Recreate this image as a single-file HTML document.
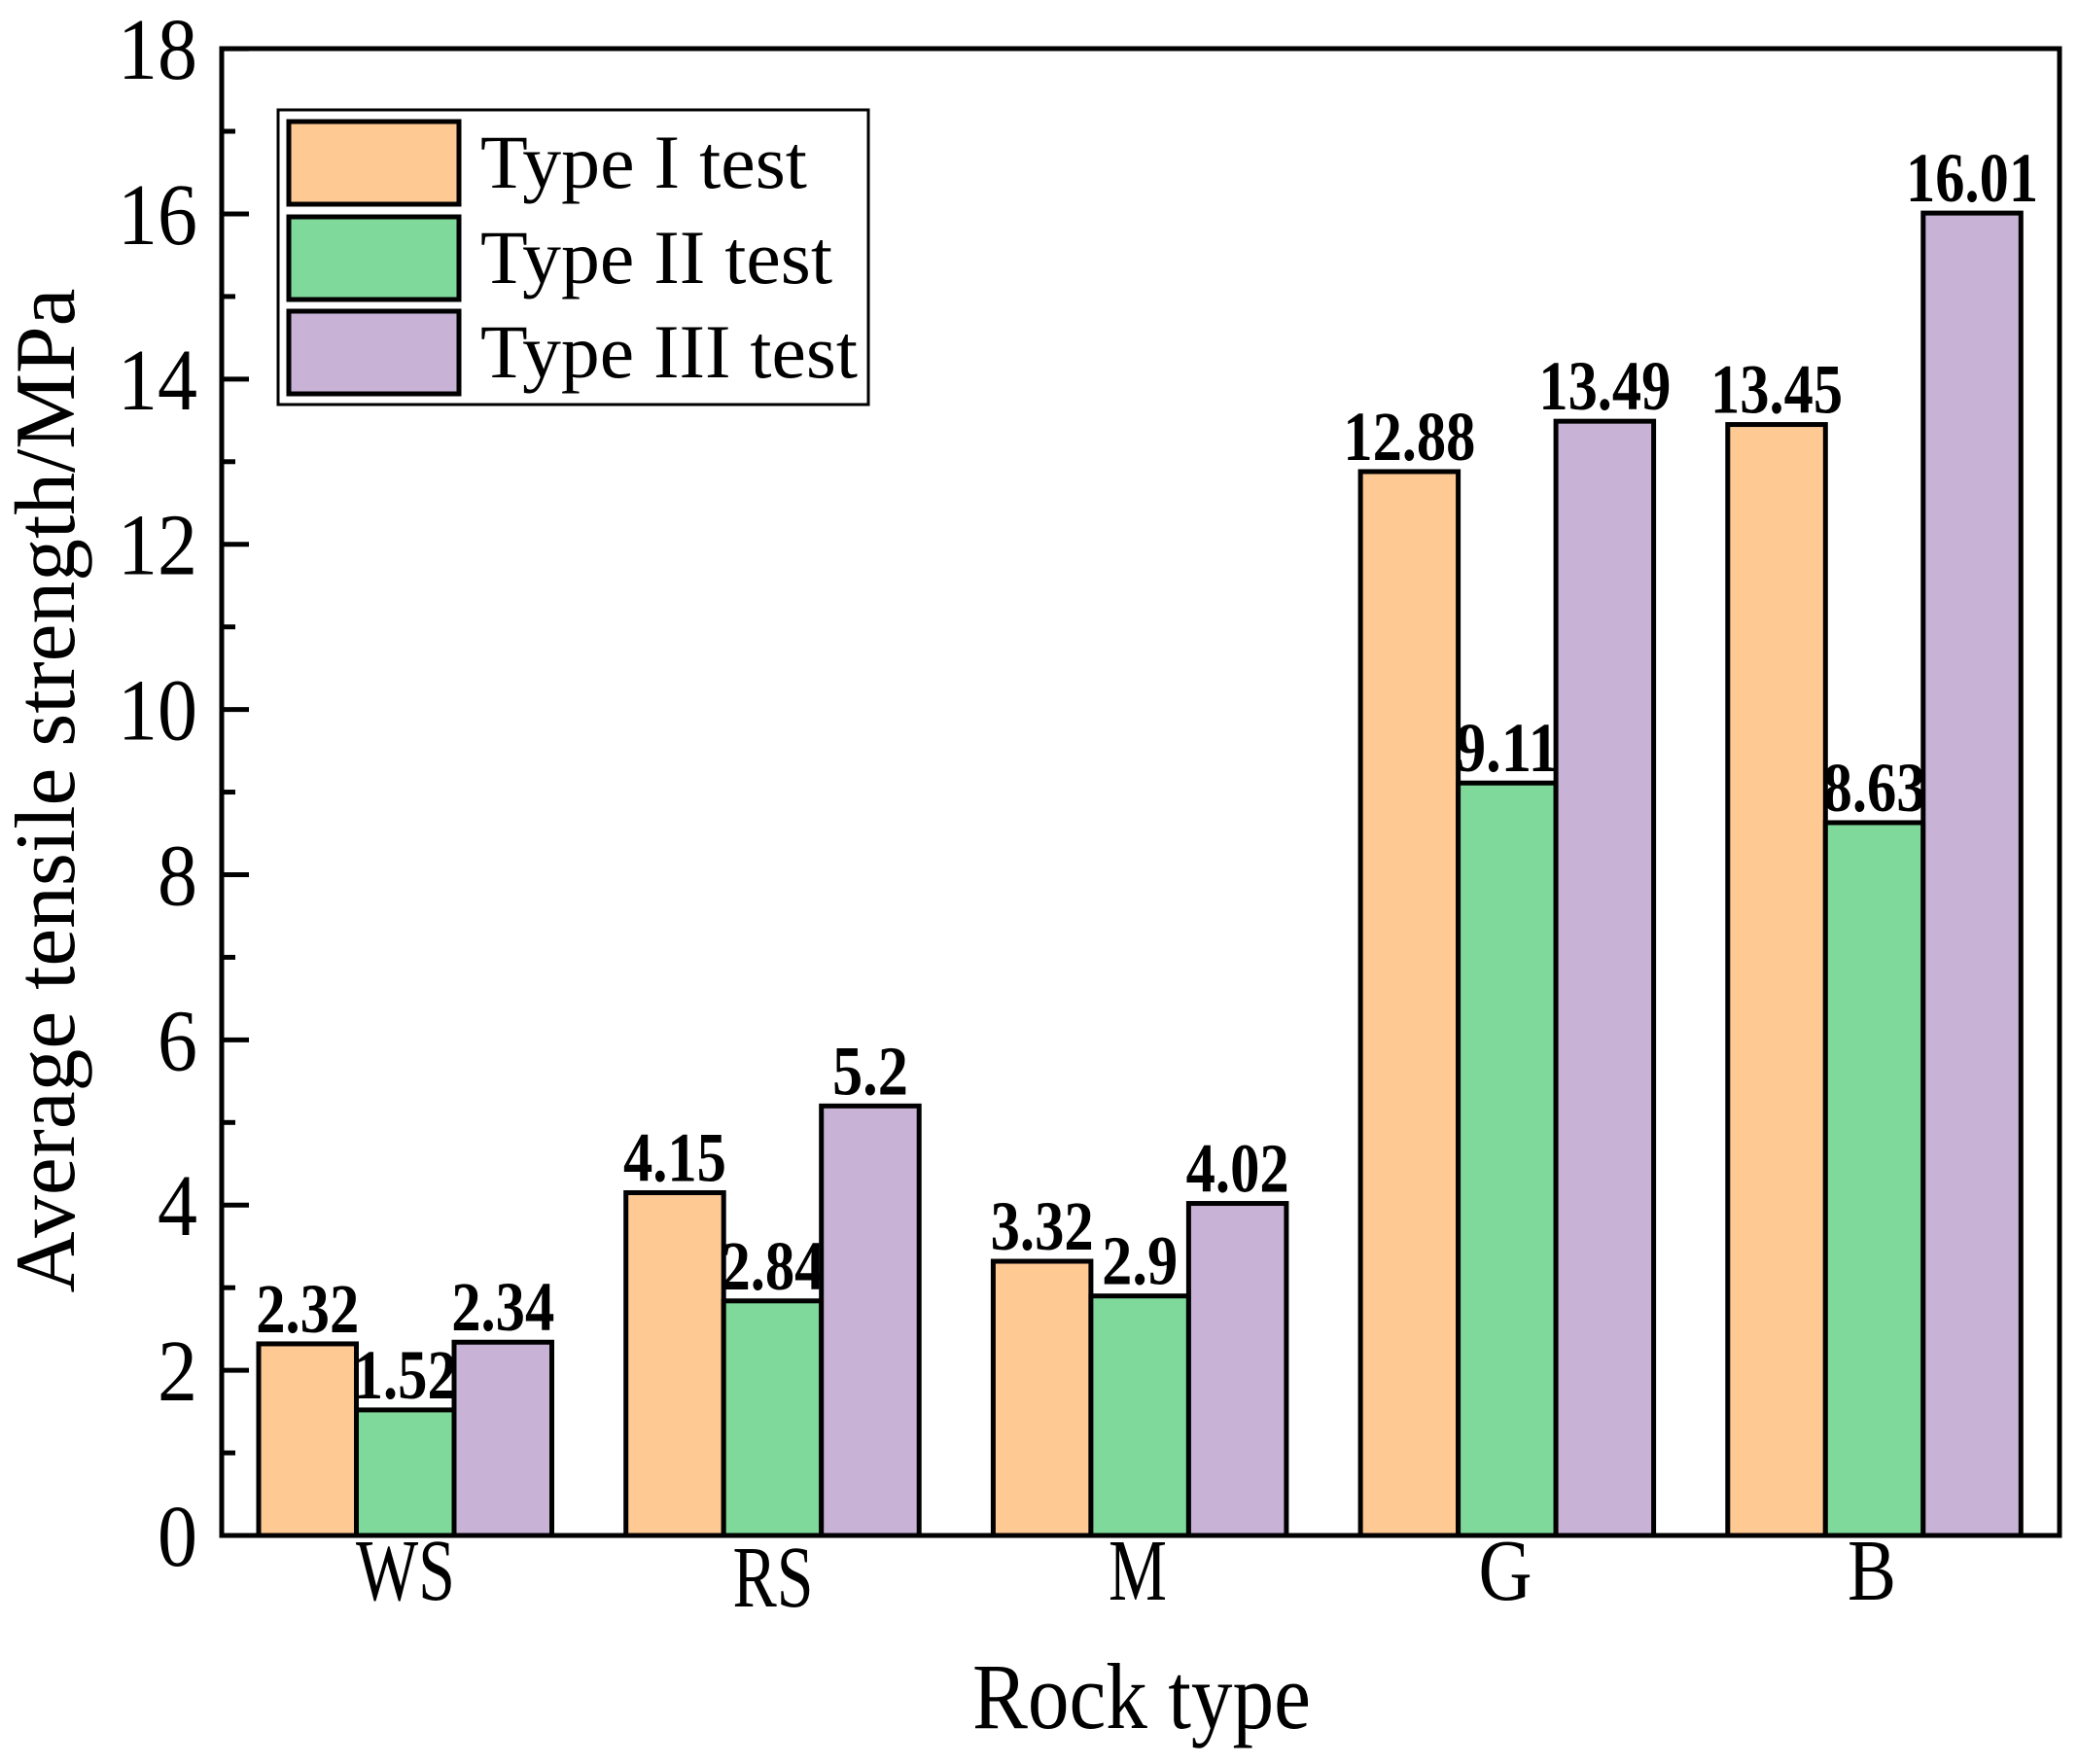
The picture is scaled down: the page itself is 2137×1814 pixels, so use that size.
<!DOCTYPE html>
<html><head><style>html,body{margin:0;padding:0;background:#fff}svg{display:block}svg text{font-family:"Liberation Serif","Times New Roman",Times,serif}</style></head>
<body>
<svg width="2137" height="1814" viewBox="0 0 2137 1814" xmlns="http://www.w3.org/2000/svg">
<rect width="2137" height="1814" fill="#fff"/>
<g id="labels" font-weight="bold" font-size="72" text-anchor="middle" fill="#000"></g>
<g id="chart"></g>
<script>
const svgns="http://www.w3.org/2000/svg";
const data=[[2.32,1.52,2.34],[4.15,2.84,5.2],[3.32,2.9,4.02],[12.88,9.11,13.49],[13.45,8.63,16.01]];
const cols=["#FFC994","#7FD99A","#C8B3D6"];
const y0=1579,k=84.94,bw=100.5,pitch=377.7,x0=266;
const L=document.getElementById('labels'),C=document.getElementById('chart');
data.forEach((g,i)=>g.forEach((v,j)=>{
 const x=x0+i*pitch+j*bw, y=y0-v*k;
 const s=String(v);
 const t=document.createElementNS(svgns,'text');
 t.setAttribute('x',x+bw/2);t.setAttribute('y',y-12);t.textContent=s;
 t.setAttribute('textLength',s.length==5?136:s.length==4?106:78);t.setAttribute('lengthAdjust','spacingAndGlyphs');
 L.appendChild(t);
 const r=document.createElementNS(svgns,'rect');
 r.setAttribute('x',x);r.setAttribute('y',y);r.setAttribute('width',bw);r.setAttribute('height',v*k);
 r.setAttribute('fill',cols[j]);r.setAttribute('stroke','#000');r.setAttribute('stroke-width','5');C.appendChild(r);
}));
for(let v=0;v<=18;v++){
 const y=y0-v*k;const l=document.createElementNS(svgns,'line');
 l.setAttribute('x1',228);l.setAttribute('x2',v%2?242:256);l.setAttribute('y1',y);l.setAttribute('y2',y);
 l.setAttribute('stroke','#000');l.setAttribute('stroke-width','5');C.appendChild(l);
 if(v%2==0){const t=document.createElementNS(svgns,'text');t.setAttribute('x',203);t.setAttribute('y',y+31);
 t.setAttribute('text-anchor','end');t.setAttribute('font-size','90');t.textContent=v;
 t.setAttribute('textLength',v>=10?82:41);t.setAttribute('lengthAdjust','spacingAndGlyphs');C.appendChild(t);}
}
</script>
<rect x="228" y="50" width="1890" height="1529" fill="none" stroke="#000" stroke-width="5"/>
<g font-size="90" text-anchor="middle">
<text x="417" y="1645" textLength="102" lengthAdjust="spacingAndGlyphs">WS</text>
<text x="795" y="1652" textLength="83" lengthAdjust="spacingAndGlyphs">RS</text>
<text x="1170" y="1645" textLength="60" lengthAdjust="spacingAndGlyphs">M</text>
<text x="1548" y="1645" textLength="55" lengthAdjust="spacingAndGlyphs">G</text>
<text x="1925" y="1645" textLength="50" lengthAdjust="spacingAndGlyphs">B</text>
<text x="1174" y="1777" font-size="96" textLength="348" lengthAdjust="spacingAndGlyphs">Rock type</text>
<text transform="translate(76,813) rotate(-90)" font-size="88" textLength="1033" lengthAdjust="spacingAndGlyphs">Average tensile strength/MPa</text>
</g>
<rect x="286" y="113" width="607" height="303" fill="#fff" stroke="#000" stroke-width="3"/>
<rect x="297" y="125" width="175" height="85" fill="#FFC994" stroke="#000" stroke-width="5"/>
<rect x="297" y="223" width="175" height="85" fill="#7FD99A" stroke="#000" stroke-width="5"/>
<rect x="297" y="320" width="175" height="85" fill="#C8B3D6" stroke="#000" stroke-width="5"/>
<g font-size="78">
<text x="494" y="193" textLength="336" lengthAdjust="spacingAndGlyphs">Type I test</text>
<text x="494" y="291" textLength="362" lengthAdjust="spacingAndGlyphs">Type II test</text>
<text x="494" y="388" textLength="388" lengthAdjust="spacingAndGlyphs">Type III test</text>
</g>
</svg>
</body></html>
